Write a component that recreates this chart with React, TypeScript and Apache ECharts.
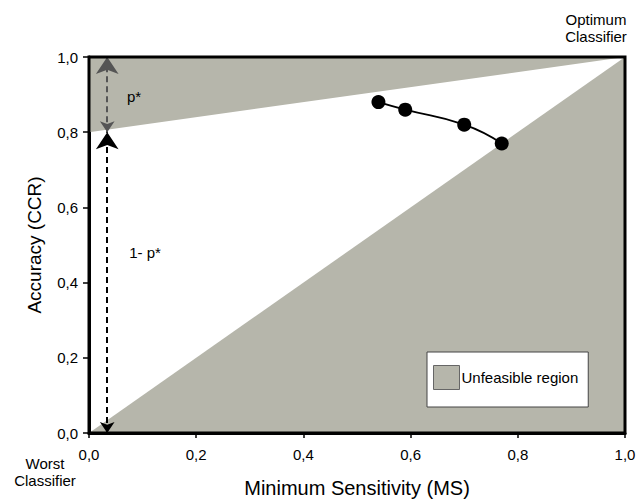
import React, { useEffect, useRef } from "react";
import * as echarts from "echarts";

const xTicks = [0, 0.2, 0.4, 0.6, 0.8, 1.0];
const sensitivity = [0.54, 0.59, 0.7, 0.77];
const accuracy = [0.88, 0.86, 0.82, 0.77];
const upperRegion = [[0, 0.8], [0, 1], [1, 1]];
const lowerRegion = [[0, 0], [1, 0], [1, 1]];
const pStar = 0.8;
const arrowX = 0.034;
const regionName = "Unfeasible region";
const GRAY = "#b6b6ab";
const FONT = "Liberation Sans, Arial, sans-serif";

export default function App() {
  const ref = useRef<HTMLDivElement>(null);
  useEffect(() => {
    const chart = echarts.init(ref.current!, null, { renderer: "svg" });
    const fmt = (v: number) => v.toFixed(1).replace(".", ",");
    const regionSeries = (pts: number[][], name: string) => ({
      type: "custom",
      name,
      coordinateSystem: "cartesian2d",
      data: [0],
      z: 1,
      itemStyle: { color: GRAY },
      renderItem: (_p: any, api: any) => ({
        type: "polygon",
        shape: { points: pts.map((p) => api.coord(p)) },
        style: { fill: GRAY, stroke: "none" },
      }),
    });
    chart.setOption({
      animation: false,
      backgroundColor: "#fff",
      textStyle: { fontFamily: FONT },
      grid: {
        left: 89,
        right: 19,
        top: 57,
        bottom: 65,
        show: true,
        borderColor: "#000",
        borderWidth: 3,
        backgroundColor: "transparent",
        z: 10,
      },
      xAxis: {
        type: "value",
        min: 0,
        max: 1,
        interval: 0.2,
        name: "Minimum Sensitivity (MS)",
        nameLocation: "middle",
        nameGap: 45,
        nameTextStyle: { fontSize: 20, color: "#000", fontFamily: FONT },
        axisLine: { show: true, lineStyle: { color: "#000", width: 3 } },
        axisTick: { show: true, length: 5, lineStyle: { color: "#000", width: 1.5 } },
        axisLabel: { formatter: fmt, fontSize: 15, color: "#000", margin: 14, fontFamily: FONT },
        splitLine: { show: false },
      },
      yAxis: {
        type: "value",
        min: 0,
        max: 1,
        interval: 0.2,
        name: "Accuracy (CCR)",
        nameLocation: "middle",
        nameGap: 45,
        nameTextStyle: { fontSize: 19, color: "#000", fontFamily: FONT },
        axisLine: { show: true, lineStyle: { color: "#000", width: 3 } },
        axisTick: { show: true, length: 6, lineStyle: { color: "#000", width: 1.5 } },
        axisLabel: { formatter: fmt, fontSize: 15, color: "#000", margin: 11, fontFamily: FONT },
        splitLine: { show: false },
      },
      legend: {
        data: [regionName],
        left: 427,
        top: 352,
        orient: "vertical",
        padding: [13, 10, 17, 6],
        itemWidth: 26,
        itemHeight: 24,
        itemGap: 0,
        borderColor: "#444",
        borderWidth: 1,
        backgroundColor: "#fff",
        icon: "rect",
        itemStyle: { borderColor: "#666", borderWidth: 1 },
        textStyle: { fontSize: 15, color: "#000", fontFamily: FONT, padding: [0, 0, 0, -3] },
        selectedMode: false,
        z: 20,
      },
      series: [
        regionSeries(upperRegion, regionName),
        regionSeries(lowerRegion, regionName),
        {
          type: "lines",
          coordinateSystem: "cartesian2d",
          z: 5,
          symbol: ["arrow", "arrow"],
          symbolSize: [11, 17],
          lineStyle: { color: "#555", type: [6, 4], width: 2, opacity: 1 },
          data: [{ coords: [[arrowX, pStar], [arrowX, 1]] }],
        },
        {
          type: "lines",
          coordinateSystem: "cartesian2d",
          z: 5,
          symbol: ["arrow", "arrow"],
          symbolSize: [11, 17],
          lineStyle: { color: "#000", type: [6, 4], width: 2, opacity: 1 },
          data: [{ coords: [[arrowX, 0], [arrowX, pStar]] }],
        },
        {
          type: "line",
          z: 6,
          smooth: true,
          symbol: "circle",
          symbolSize: 14,
          itemStyle: { color: "#000" },
          lineStyle: { color: "#000", width: 2 },
          data: sensitivity.map((x, i) => [x, accuracy[i]]),
        },
      ],
      graphic: [
        { type: "text", z: 100, x: 134, y: 96, style: { text: "p*", font: `15px ${FONT}`, fill: "#000", textAlign: "center", textVerticalAlign: "middle" } },
        { type: "text", z: 100, x: 145, y: 252, style: { text: "1- p*", font: `15px ${FONT}`, fill: "#000", textAlign: "center", textVerticalAlign: "middle" } },
        { type: "text", z: 100, x: 596, y: 28, style: { text: "Optimum\nClassifier", font: `15px ${FONT}`, fill: "#000", textAlign: "center", textVerticalAlign: "middle", lineHeight: 17 } },
        { type: "text", z: 100, x: 45, y: 472, style: { text: "Worst\nClassifier", font: `15px ${FONT}`, fill: "#000", textAlign: "center", textVerticalAlign: "middle", lineHeight: 17 } },
      ],
    });
    return () => chart.dispose();
  }, []);
  return <div ref={ref} style={{ width: 644, height: 503, position: "absolute", left: 0, top: 0 }} />;
}
